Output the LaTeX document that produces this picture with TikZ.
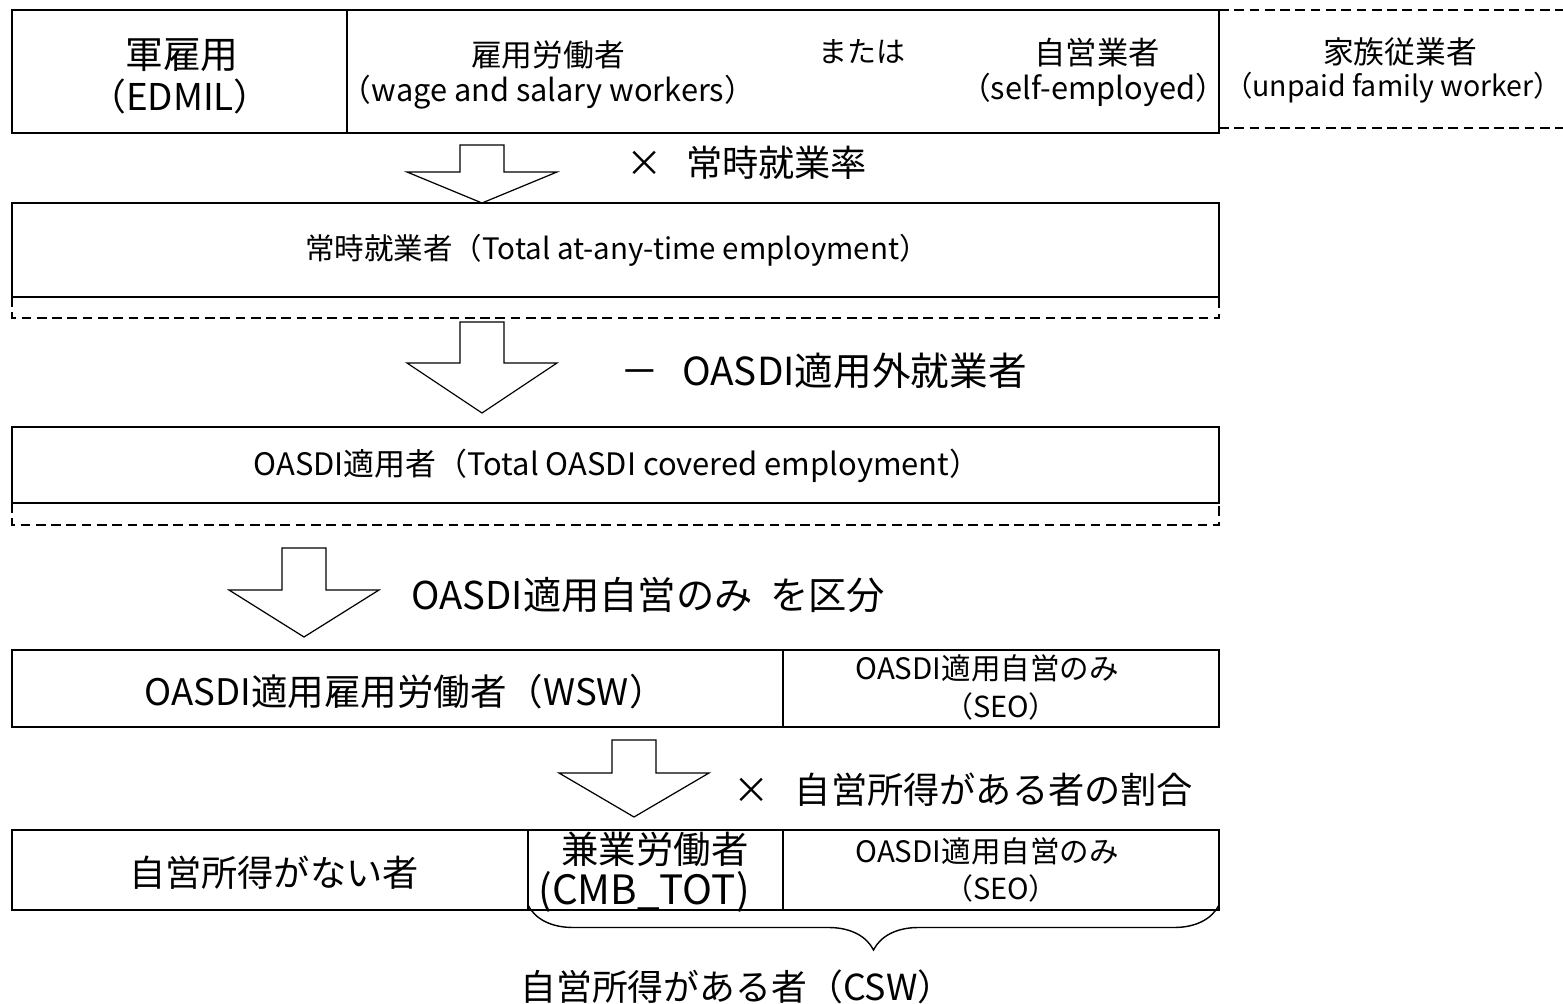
\documentclass[tikz,border=0pt]{standalone}
\usepackage{fontspec}
\setmainfont{Noto Sans CJK JP}
\usetikzlibrary{decorations.pathreplacing}

% hollow down arrow: x, top, shoulder, tip
\newcommand{\blockarrow}[4]{%
  \draw[blockarr] (#1-22,#2) -- (#1+22,#2) -- (#1+22,#3) -- (#1+75,#3)
    -- (#1,#4) -- (#1-75,#3) -- (#1-22,#3) -- cycle;}

\begin{document}
\begin{tikzpicture}[x=0.02cm, y=-0.02cm,
  box/.style={line width=1.2pt},
  dashbox/.style={line width=0.9pt, dash pattern=on 5.5pt off 3.2pt},
  blockarr/.style={line width=0.7pt, line join=miter},
  jp/.style={inner sep=0pt, font=\fontsize{#1}{#1}\selectfont}]
\useasboundingbox (0,0) rectangle (1563,1004);

% row 1
\draw[box] (12,10) rectangle (1219,133);
\draw[box] (347,10) -- (347,133);
\draw[dashbox] (1219,10) -- (1563,10) (1219,128) -- (1563,128);
\node[jp=21.5] (gun) at (182,55) {軍雇用};
\node[jp=21] (edmil) at (180,96) {（EDMIL）};
\node[jp=17.5] (koyo) at (548,55) {雇用労働者};
\node[jp=17.5] (wage) at (548,92) {（wage and salary workers）};
\node[jp=16.5] (mata) at (862,52) {または};
\node[jp=17.8] (jiei) at (1097,53) {自営業者};
\node[jp=17.5] (selfemp) at (1093,90) {（self-employed）};
\node[jp=17.5] (kazoku) at (1400,52) {家族従業者};
\node[jp=16.2] (unpaid) at (1393,88) {（unpaid family worker）};

\blockarrow{482}{145}{172}{203}
\node[jp=20.6, anchor=west] (rate) at (626,163) {×\hspace{0.65em}常時就業率};

% row 2
\draw[box] (12,203) rectangle (1219,297);
\draw[dashbox] (12,297) -- (12,318) -- (1219,318) -- (1219,297);
\node[jp=16.8] (anytime) at (617,250) {常時就業者（Total at-any-time employment）};

\blockarrow{482}{322}{363}{413}
\node[jp=22, anchor=west] (minus) at (620,371) {－\hspace{0.6em}OASDI適用外就業者};

% row 3
\draw[box] (12,427) rectangle (1219,503);
\draw[dashbox] (12,503) -- (12,525) -- (1219,525) -- (1219,503);
\node[jp=17.6] (covered) at (617,466) {OASDI適用者（Total OASDI covered employment）};

\blockarrow{304}{548}{590}{637}
\node[jp=21.8, anchor=west] (split) at (411,595) {OASDI適用自営のみ\ \ を区分};

% row 4
\draw[box] (12,650) rectangle (1219,727);
\draw[box] (783,650) -- (783,727);
\node[jp=20.8] (wsw) at (405,692) {OASDI適用雇用労働者（WSW）};
\node[jp=16.8] (seoa) at (987,668) {OASDI適用自営のみ};
\node[jp=16.5] (seob) at (1001,706) {（SEO）};

\blockarrow{634}{740}{773}{817}
\node[jp=20.6, anchor=west] (share) at (733,790) {×\hspace{0.7em}自営所得がある者の割合};

% row 5
\draw[box] (12,830) rectangle (1219,910);
\draw[box] (528,830) -- (528,910) (783,830) -- (783,910);
\node[jp=20.6] (noinc) at (274,873) {自営所得がない者};
\node[jp=21.3] (kengyo) at (655,849) {兼業労働者};
\node[jp=23] (cmb) at (644,892) {(CMB\_TOT)};
\node[jp=16.8] (seoc) at (987,851) {OASDI適用自営のみ};
\node[jp=16.5] (seod) at (1001,888) {（SEO）};

\draw[line width=0.8pt, decorate, decoration={brace, amplitude=0.9cm}]
  (1219,905) -- (528,905);
\node[jp=20.4] (csw) at (737,987) {自営所得がある者（CSW）};
\end{tikzpicture}
\end{document}
